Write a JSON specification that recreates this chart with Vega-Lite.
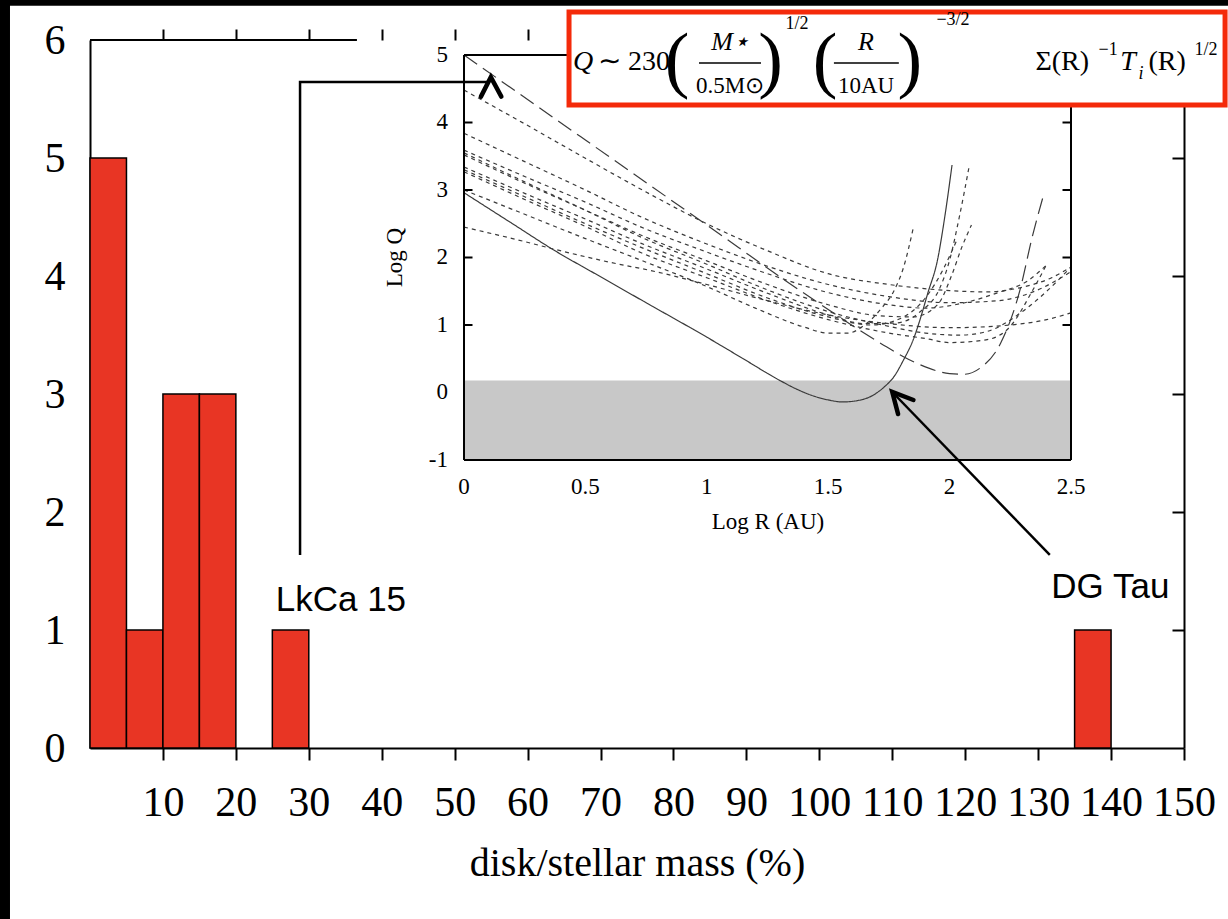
{
  "$schema": "https://vega.github.io/schema/vega-lite/v6.json",
  "width": 1094,
  "height": 708,
  "padding": {"left": 90, "top": 40, "right": 44, "bottom": 171},
  "autosize": {"type": "none"},
  "background": "white",
  "config": {"view": {"stroke": null}, "axis": {"grid": false}},
  "layer": [
    {
      "layer": [
        {
          "data": {"values": [
            {"lo": 0, "hi": 5, "n": 5},
            {"lo": 5, "hi": 10, "n": 1},
            {"lo": 10, "hi": 15, "n": 3},
            {"lo": 15, "hi": 20, "n": 3},
            {"lo": 25, "hi": 30, "n": 1},
            {"lo": 135, "hi": 140, "n": 1}
          ]},
          "mark": {"type": "rect", "fill": "#e83524", "stroke": "black", "strokeWidth": 1.5},
          "encoding": {
            "x": {"field": "lo", "type": "quantitative", "scale": {"domain": [0, 150], "nice": false, "zero": false},
              "axis": {"orient": "bottom", "values": [10,20,30,40,50,60,70,80,90,100,110,120,130,140,150], "format": "d",
                "tickSize": 12, "tickWidth": 2, "tickColor": "black", "domainColor": "black", "domainWidth": 2,
                "labelFont": "Liberation Serif", "labelFontSize": 42, "labelColor": "black", "labelPadding": 22, "labelDx": 7,
                "labelFlush": false, "labelOverlap": false,
                "title": "disk/stellar mass (%)", "titleFont": "Liberation Serif", "titleFontSize": 40, "titleFontWeight": "normal",
                "titleColor": "black", "titlePadding": 20}},
            "x2": {"field": "hi"},
            "y": {"field": "n", "type": "quantitative", "scale": {"domain": [0, 6], "nice": false, "zero": false},
              "axis": {"orient": "left", "values": [0,1,2,3,4,5,6], "ticks": false, "tickSize": 0,
                "domainColor": "black", "domainWidth": 2,
                "labelFont": "Liberation Serif", "labelFontSize": 42, "labelColor": "black", "labelPadding": 25,
                "labelFlush": false, "labelOverlap": false, "title": null}},
            "y2": {"datum": 0}
          }
        },
        {
          "data": {"values": [{"a": 0, "b": 36.6, "y": 6}]},
          "mark": {"type": "rule", "color": "black", "strokeWidth": 2},
          "encoding": {
            "x": {"field": "a", "type": "quantitative", "scale": {"domain": [0, 150], "nice": false, "zero": false},
              "axis": {"orient": "top", "values": [10,20,30,40,50,60,70,80,90,100,110,120,130,140,150],
                "labels": false, "domain": false, "tickSize": 11, "tickWidth": 2, "tickColor": "black", "title": null}},
            "x2": {"field": "b"},
            "y": {"field": "y", "type": "quantitative", "scale": {"domain": [0, 6], "nice": false, "zero": false},
              "axis": {"orient": "right", "values": [1,2,3,4,5], "labels": false, "tickSize": -12, "tickWidth": 2,
                "tickColor": "black", "domainColor": "black", "domainWidth": 2, "title": null}}
          }
        },
        {
          "data": {"values": [
            {"a": -14, "b": -10.97, "c": -2, "d": 7},
            {"a": -14, "b": 160, "c": 6.29, "d": 7}
          ]},
          "mark": {"type": "rect", "fill": "black"},
          "encoding": {
            "x": {"field": "a", "type": "quantitative", "scale": {"domain": [0, 150], "nice": false, "zero": false}, "axis": null},
            "x2": {"field": "b"},
            "y": {"field": "c", "type": "quantitative", "scale": {"domain": [0, 6], "nice": false, "zero": false}, "axis": null},
            "y2": {"field": "d"}
          }
        }
      ],
      "resolve": {"axis": {"x": "independent", "y": "independent"}}
    },
    {
      "layer": [
        {
          "data": {"values": [{"a": 0, "b": 2.5, "c": -1, "d": 0.176}]},
          "mark": {"type": "rect", "fill": "#c8c8c8"},
          "encoding": {
            "x": {"field": "a", "type": "quantitative", "scale": {"domain": [-1.5404, 2.9654], "nice": false, "zero": false}, "axis": null},
            "x2": {"field": "b"},
            "y": {"field": "c", "type": "quantitative", "scale": {"domain": [-5.2667, 5.2222], "nice": false, "zero": false}, "axis": null},
            "y2": {"field": "d"}
          }
        },
        {
          "data": {"values": [
            {"c":"S","s":"solid","r":0,"q":2.96},{"c":"S","s":"solid","r":0.2,"q":2.5},{"c":"S","s":"solid","r":0.37,"q":2.11},
            {"c":"S","s":"solid","r":0.55,"q":1.74},{"c":"S","s":"solid","r":0.75,"q":1.33},{"c":"S","s":"solid","r":1.0,"q":0.82},
            {"c":"S","s":"solid","r":1.15,"q":0.5},{"c":"S","s":"solid","r":1.3,"q":0.18},{"c":"S","s":"solid","r":1.37,"q":0.05},
            {"c":"S","s":"solid","r":1.43,"q":-0.04},{"c":"S","s":"solid","r":1.5,"q":-0.11},{"c":"S","s":"solid","r":1.56,"q":-0.14},
            {"c":"S","s":"solid","r":1.62,"q":-0.12},{"c":"S","s":"solid","r":1.68,"q":-0.05},
            {"c":"S","s":"solid","r":1.73,"q":0.08},{"c":"S","s":"solid","r":1.77,"q":0.23},{"c":"S","s":"solid","r":1.81,"q":0.48},
            {"c":"S","s":"solid","r":1.85,"q":0.78},{"c":"S","s":"solid","r":1.88,"q":1.1},{"c":"S","s":"solid","r":1.91,"q":1.47},
            {"c":"S","s":"solid","r":1.95,"q":1.96},{"c":"S","s":"solid","r":1.98,"q":2.6},{"c":"S","s":"solid","r":2.01,"q":3.37},

            {"c":"L","s":"long","r":0,"q":5.0},{"c":"L","s":"long","r":0.5,"q":3.74},{"c":"L","s":"long","r":1.0,"q":2.48},
            {"c":"L","s":"long","r":1.38,"q":1.52},{"c":"L","s":"long","r":1.5,"q":1.23},{"c":"L","s":"long","r":1.63,"q":0.92},
            {"c":"L","s":"long","r":1.72,"q":0.72},{"c":"L","s":"long","r":1.81,"q":0.53},{"c":"L","s":"long","r":1.9,"q":0.38},
            {"c":"L","s":"long","r":2.0,"q":0.28},{"c":"L","s":"long","r":2.06,"q":0.27},{"c":"L","s":"long","r":2.125,"q":0.36},
            {"c":"L","s":"long","r":2.21,"q":0.73},{"c":"L","s":"long","r":2.29,"q":1.52},{"c":"L","s":"long","r":2.34,"q":2.3},
            {"c":"L","s":"long","r":2.385,"q":2.9},

            {"c":"c1","s":"short","r":0,"q":4.48},{"c":"c1","s":"short","r":0.25,"q":3.98},{"c":"c1","s":"short","r":0.5,"q":3.47},
            {"c":"c1","s":"short","r":0.75,"q":2.97},{"c":"c1","s":"short","r":1.0,"q":2.5},{"c":"c1","s":"short","r":1.25,"q":2.1},
            {"c":"c1","s":"short","r":1.5,"q":1.76},{"c":"c1","s":"short","r":1.75,"q":1.6},{"c":"c1","s":"short","r":2.0,"q":1.51},
            {"c":"c1","s":"short","r":2.15,"q":1.49},{"c":"c1","s":"short","r":2.3,"q":1.56},{"c":"c1","s":"short","r":2.42,"q":1.7},
            {"c":"c1","s":"short","r":2.5,"q":1.86},

            {"c":"c2","s":"short","r":0,"q":3.84},{"c":"c2","s":"short","r":0.25,"q":3.42},{"c":"c2","s":"short","r":0.5,"q":3.0},
            {"c":"c2","s":"short","r":0.73,"q":2.6},{"c":"c2","s":"short","r":1.0,"q":2.2},{"c":"c2","s":"short","r":1.25,"q":1.87},
            {"c":"c2","s":"short","r":1.5,"q":1.6},{"c":"c2","s":"short","r":1.75,"q":1.42},{"c":"c2","s":"short","r":2.0,"q":1.33},
            {"c":"c2","s":"short","r":2.2,"q":1.36},{"c":"c2","s":"short","r":2.35,"q":1.5},{"c":"c2","s":"short","r":2.5,"q":1.79},

            {"c":"c3","s":"short","r":0,"q":3.59},{"c":"c3","s":"short","r":0.25,"q":3.2},{"c":"c3","s":"short","r":0.5,"q":2.82},
            {"c":"c3","s":"short","r":0.73,"q":2.45},{"c":"c3","s":"short","r":1.0,"q":2.08},{"c":"c3","s":"short","r":1.25,"q":1.76},
            {"c":"c3","s":"short","r":1.5,"q":1.48},{"c":"c3","s":"short","r":1.75,"q":1.3},{"c":"c3","s":"short","r":1.9,"q":1.25},
            {"c":"c3","s":"short","r":2.05,"q":1.32},{"c":"c3","s":"short","r":2.2,"q":1.48},{"c":"c3","s":"short","r":2.32,"q":1.65},
            {"c":"c3","s":"short","r":2.4,"q":1.89},

            {"c":"c4","s":"short","r":0,"q":3.52},{"c":"c4","s":"short","r":0.25,"q":3.1},{"c":"c4","s":"short","r":0.5,"q":2.7},
            {"c":"c4","s":"short","r":0.73,"q":2.33},{"c":"c4","s":"short","r":1.0,"q":1.95},{"c":"c4","s":"short","r":1.25,"q":1.6},
            {"c":"c4","s":"short","r":1.5,"q":1.3},{"c":"c4","s":"short","r":1.7,"q":1.14},{"c":"c4","s":"short","r":1.85,"q":1.12},
            {"c":"c4","s":"short","r":1.95,"q":1.3},{"c":"c4","s":"short","r":2.01,"q":1.75},{"c":"c4","s":"short","r":2.05,"q":2.15},
            {"c":"c4","s":"short","r":2.09,"q":2.48},

            {"c":"c5","s":"short","r":0,"q":3.34},{"c":"c5","s":"short","r":0.25,"q":2.95},{"c":"c5","s":"short","r":0.5,"q":2.57},
            {"c":"c5","s":"short","r":0.73,"q":2.21},{"c":"c5","s":"short","r":1.0,"q":1.83},{"c":"c5","s":"short","r":1.25,"q":1.47},
            {"c":"c5","s":"short","r":1.5,"q":1.15},{"c":"c5","s":"short","r":1.65,"q":1.02},{"c":"c5","s":"short","r":1.78,"q":1.03},
            {"c":"c5","s":"short","r":1.88,"q":1.2},{"c":"c5","s":"short","r":1.96,"q":1.55},{"c":"c5","s":"short","r":2.0,"q":1.96},
            {"c":"c5","s":"short","r":2.04,"q":2.6},{"c":"c5","s":"short","r":2.08,"q":3.34},

            {"c":"c6","s":"short","r":0,"q":3.27},{"c":"c6","s":"short","r":0.25,"q":2.86},{"c":"c6","s":"short","r":0.5,"q":2.46},
            {"c":"c6","s":"short","r":0.73,"q":2.07},{"c":"c6","s":"short","r":1.0,"q":1.7},{"c":"c6","s":"short","r":1.25,"q":1.36},
            {"c":"c6","s":"short","r":1.5,"q":1.08},{"c":"c6","s":"short","r":1.75,"q":0.88},{"c":"c6","s":"short","r":1.9,"q":0.8},
            {"c":"c6","s":"short","r":2.0,"q":0.74},{"c":"c6","s":"short","r":2.15,"q":0.78},{"c":"c6","s":"short","r":2.25,"q":0.98},
            {"c":"c6","s":"short","r":2.34,"q":1.5},{"c":"c6","s":"short","r":2.4,"q":1.9},

            {"c":"c7","s":"short","r":0,"q":3.0},{"c":"c7","s":"short","r":0.25,"q":2.64},{"c":"c7","s":"short","r":0.5,"q":2.28},
            {"c":"c7","s":"short","r":0.75,"q":1.93},{"c":"c7","s":"short","r":1.0,"q":1.57},{"c":"c7","s":"short","r":1.2,"q":1.25},
            {"c":"c7","s":"short","r":1.4,"q":0.97},{"c":"c7","s":"short","r":1.5,"q":0.88},{"c":"c7","s":"short","r":1.58,"q":0.88},
            {"c":"c7","s":"short","r":1.65,"q":1.0},{"c":"c7","s":"short","r":1.72,"q":1.25},{"c":"c7","s":"short","r":1.77,"q":1.5},
            {"c":"c7","s":"short","r":1.81,"q":1.85},{"c":"c7","s":"short","r":1.85,"q":2.43},

            {"c":"c8","s":"short","r":0,"q":2.45},{"c":"c8","s":"short","r":0.2,"q":2.28},{"c":"c8","s":"short","r":0.42,"q":2.08},
            {"c":"c8","s":"short","r":0.6,"q":1.93},{"c":"c8","s":"short","r":0.79,"q":1.79},{"c":"c8","s":"short","r":1.0,"q":1.6},
            {"c":"c8","s":"short","r":1.25,"q":1.36},{"c":"c8","s":"short","r":1.5,"q":1.15},{"c":"c8","s":"short","r":1.75,"q":1.02},
            {"c":"c8","s":"short","r":2.0,"q":0.96},{"c":"c8","s":"short","r":2.25,"q":1.0},{"c":"c8","s":"short","r":2.4,"q":1.08},
            {"c":"c8","s":"short","r":2.5,"q":1.18},

            {"c":"c9","s":"short","r":0,"q":3.55},{"c":"c9","s":"short","r":0.25,"q":3.12},{"c":"c9","s":"short","r":0.5,"q":2.7},
            {"c":"c9","s":"short","r":0.73,"q":2.3},{"c":"c9","s":"short","r":1.0,"q":1.9},{"c":"c9","s":"short","r":1.25,"q":1.52},
            {"c":"c9","s":"short","r":1.5,"q":1.2},{"c":"c9","s":"short","r":1.75,"q":0.98},{"c":"c9","s":"short","r":1.9,"q":0.88},
            {"c":"c9","s":"short","r":2.04,"q":0.85},{"c":"c9","s":"short","r":2.15,"q":0.9},{"c":"c9","s":"short","r":2.3,"q":1.2},
            {"c":"c9","s":"short","r":2.4,"q":1.5},{"c":"c9","s":"short","r":2.5,"q":1.86},

            {"c":"c10","s":"short","r":0,"q":3.3},{"c":"c10","s":"short","r":0.25,"q":2.9},{"c":"c10","s":"short","r":0.5,"q":2.5},
            {"c":"c10","s":"short","r":0.75,"q":2.12},{"c":"c10","s":"short","r":1.0,"q":1.76},{"c":"c10","s":"short","r":1.25,"q":1.4},
            {"c":"c10","s":"short","r":1.5,"q":1.12},{"c":"c10","s":"short","r":1.68,"q":1.0},{"c":"c10","s":"short","r":1.8,"q":1.1},
            {"c":"c10","s":"short","r":1.9,"q":1.4},{"c":"c10","s":"short","r":1.97,"q":1.8},{"c":"c10","s":"short","r":2.03,"q":2.26}
          ]},
          "mark": {"type": "line", "interpolate": "monotone", "strokeWidth": 1.2, "color": "#3a3a3a"},
          "encoding": {
            "x": {"field": "r", "type": "quantitative", "scale": {"domain": [-1.5404, 2.9654], "nice": false, "zero": false}, "axis": null},
            "y": {"field": "q", "type": "quantitative", "scale": {"domain": [-5.2667, 5.2222], "nice": false, "zero": false}, "axis": null},
            "detail": {"field": "c"},
            "strokeDash": {"field": "s", "type": "nominal", "scale": {"domain": ["solid", "long", "short"], "range": [[1, 0], [16, 7], [4, 4]]}, "legend": null}
          }
        },
        {
          "data": {"values": [
            {"x": 0, "y": -1, "x2": 0, "y2": 5},
            {"x": 0, "y": -1, "x2": 2.5, "y2": -1},
            {"x": 2.5, "y": -1, "x2": 2.5, "y2": 5},
            {"x": 0, "y": 5, "x2": 2.5, "y2": 5}
          ]},
          "mark": {"type": "rule", "color": "black", "strokeWidth": 2},
          "encoding": {
            "x": {"field": "x", "type": "quantitative", "scale": {"domain": [-1.5404, 2.9654], "nice": false, "zero": false}, "axis": null},
            "x2": {"field": "x2"},
            "y": {"field": "y", "type": "quantitative", "scale": {"domain": [-5.2667, 5.2222], "nice": false, "zero": false}, "axis": null},
            "y2": {"field": "y2"}
          }
        },
        {
          "data": {"values": [
            {"a": 0, "b": 0.035, "v": 1}, {"a": 0, "b": 0.035, "v": 2}, {"a": 0, "b": 0.035, "v": 3}, {"a": 0, "b": 0.035, "v": 4},
            {"a": 2.465, "b": 2.5, "v": 1}, {"a": 2.465, "b": 2.5, "v": 2}, {"a": 2.465, "b": 2.5, "v": 3}, {"a": 2.465, "b": 2.5, "v": 4}
          ]},
          "mark": {"type": "rule", "color": "black", "strokeWidth": 2},
          "encoding": {
            "x": {"field": "a", "type": "quantitative", "scale": {"domain": [-1.5404, 2.9654], "nice": false, "zero": false}, "axis": null},
            "x2": {"field": "b"},
            "y": {"field": "v", "type": "quantitative", "scale": {"domain": [-5.2667, 5.2222], "nice": false, "zero": false}, "axis": null}
          }
        },
        {
          "data": {"values": [
            {"t": "5", "v": 5}, {"t": "4", "v": 4}, {"t": "3", "v": 3}, {"t": "2", "v": 2},
            {"t": "1", "v": 1}, {"t": "0", "v": 0}, {"t": "-1", "v": -1}
          ]},
          "mark": {"type": "text", "font": "Liberation Serif", "fontSize": 23, "align": "right", "baseline": "middle", "dx": -16, "color": "black"},
          "encoding": {
            "x": {"datum": 0, "type": "quantitative", "scale": {"domain": [-1.5404, 2.9654], "nice": false, "zero": false}, "axis": null},
            "y": {"field": "v", "type": "quantitative", "scale": {"domain": [-5.2667, 5.2222], "nice": false, "zero": false}, "axis": null},
            "text": {"field": "t"}
          }
        },
        {
          "data": {"values": [
            {"t": "0", "v": 0}, {"t": "0.5", "v": 0.5}, {"t": "1", "v": 1},
            {"t": "1.5", "v": 1.5}, {"t": "2", "v": 2}, {"t": "2.5", "v": 2.5}
          ]},
          "mark": {"type": "text", "font": "Liberation Serif", "fontSize": 23, "align": "center", "baseline": "middle", "dy": 27, "color": "black"},
          "encoding": {
            "x": {"field": "v", "type": "quantitative", "scale": {"domain": [-1.5404, 2.9654], "nice": false, "zero": false}, "axis": null},
            "y": {"datum": -1, "type": "quantitative", "scale": {"domain": [-5.2667, 5.2222], "nice": false, "zero": false}, "axis": null},
            "text": {"field": "t"}
          }
        },
        {
          "data": {"values": [{"t": "Log Q", "x": -0.284, "y": 2.0}]},
          "mark": {"type": "text", "font": "Liberation Serif", "fontSize": 23, "angle": 270, "align": "center", "baseline": "middle", "color": "black"},
          "encoding": {
            "x": {"field": "x", "type": "quantitative", "scale": {"domain": [-1.5404, 2.9654], "nice": false, "zero": false}, "axis": null},
            "y": {"field": "y", "type": "quantitative", "scale": {"domain": [-5.2667, 5.2222], "nice": false, "zero": false}, "axis": null},
            "text": {"field": "t"}
          }
        },
        {
          "data": {"values": [{"t": "Log R (AU)", "x": 1.252, "y": -1.92}]},
          "mark": {"type": "text", "font": "Liberation Serif", "fontSize": 23, "align": "center", "baseline": "middle", "color": "black"},
          "encoding": {
            "x": {"field": "x", "type": "quantitative", "scale": {"domain": [-1.5404, 2.9654], "nice": false, "zero": false}, "axis": null},
            "y": {"field": "y", "type": "quantitative", "scale": {"domain": [-5.2667, 5.2222], "nice": false, "zero": false}, "axis": null},
            "text": {"field": "t"}
          }
        }
      ]
    },
    {
      "layer": [
        {
          "data": {"values": [{"a": 65.68, "b": 155.63, "c": 6.237, "d": 5.449}]},
          "mark": {"type": "rect", "fill": "white", "stroke": "#f42a0a", "strokeWidth": 5},
          "encoding": {
            "x": {"field": "a", "type": "quantitative", "scale": {"domain": [0, 150], "nice": false, "zero": false}, "axis": null},
            "x2": {"field": "b"},
            "y": {"field": "c", "type": "quantitative", "scale": {"domain": [0, 6], "nice": false, "zero": false}, "axis": null},
            "y2": {"field": "d"}
          }
        },
        {
          "data": {"values": [{"a": 83.5, "b": 92.0, "y": 5.805}, {"a": 102.0, "b": 110.9, "y": 5.805}]},
          "mark": {"type": "rule", "color": "black", "strokeWidth": 1.3},
          "encoding": {
            "x": {"field": "a", "type": "quantitative", "scale": {"domain": [0, 150], "nice": false, "zero": false}, "axis": null},
            "x2": {"field": "b"},
            "y": {"field": "y", "type": "quantitative", "scale": {"domain": [0, 6], "nice": false, "zero": false}, "axis": null}
          }
        },
        {
          "data": {"values": [
            {"t": "∼ 230", "x": 74.6, "y": 5.814},
            {"t": "Σ(R)", "x": 133.3, "y": 5.814},
            {"t": "(R)", "x": 147.68, "y": 5.814}
          ]},
          "mark": {"type": "text", "font": "Liberation Serif", "fontSize": 28, "align": "center", "baseline": "middle", "color": "black"},
          "encoding": {
            "x": {"field": "x", "type": "quantitative", "scale": {"domain": [0, 150], "nice": false, "zero": false}, "axis": null},
            "y": {"field": "y", "type": "quantitative", "scale": {"domain": [0, 6], "nice": false, "zero": false}, "axis": null},
            "text": {"field": "t"}
          }
        },
        {
          "data": {"values": [
            {"t": "0.5M⊙", "x": 87.76, "y": 5.61},
            {"t": "10AU", "x": 106.4, "y": 5.61}
          ]},
          "mark": {"type": "text", "font": "Liberation Serif", "fontSize": 23, "align": "center", "baseline": "middle", "color": "black"},
          "encoding": {
            "x": {"field": "x", "type": "quantitative", "scale": {"domain": [0, 150], "nice": false, "zero": false}, "axis": null},
            "y": {"field": "y", "type": "quantitative", "scale": {"domain": [0, 6], "nice": false, "zero": false}, "axis": null},
            "text": {"field": "t"}
          }
        },
        {
          "data": {"values": [
            {"t": "Q", "x": 67.6, "y": 5.814},
            {"t": "T", "x": 142.33, "y": 5.814}
          ]},
          "mark": {"type": "text", "font": "Liberation Serif", "fontSize": 28, "fontStyle": "italic", "align": "center", "baseline": "middle", "color": "black"},
          "encoding": {
            "x": {"field": "x", "type": "quantitative", "scale": {"domain": [0, 150], "nice": false, "zero": false}, "axis": null},
            "y": {"field": "y", "type": "quantitative", "scale": {"domain": [0, 6], "nice": false, "zero": false}, "axis": null},
            "text": {"field": "t"}
          }
        },
        {
          "data": {"values": [
            {"t": "M⋆", "x": 87.76, "y": 5.983},
            {"t": "R", "x": 106.4, "y": 5.983}
          ]},
          "mark": {"type": "text", "font": "Liberation Serif", "fontSize": 26, "fontStyle": "italic", "align": "center", "baseline": "middle", "color": "black"},
          "encoding": {
            "x": {"field": "x", "type": "quantitative", "scale": {"domain": [0, 150], "nice": false, "zero": false}, "axis": null},
            "y": {"field": "y", "type": "quantitative", "scale": {"domain": [0, 6], "nice": false, "zero": false}, "axis": null},
            "text": {"field": "t"}
          }
        },
        {
          "data": {"values": [
            {"t": "1/2", "x": 96.94, "y": 6.136},
            {"t": "−3/2", "x": 118.33, "y": 6.169},
            {"t": "−1", "x": 139.59, "y": 5.915},
            {"t": "1/2", "x": 153.02, "y": 5.915}
          ]},
          "mark": {"type": "text", "font": "Liberation Serif", "fontSize": 18, "align": "center", "baseline": "middle", "color": "black"},
          "encoding": {
            "x": {"field": "x", "type": "quantitative", "scale": {"domain": [0, 150], "nice": false, "zero": false}, "axis": null},
            "y": {"field": "y", "type": "quantitative", "scale": {"domain": [0, 6], "nice": false, "zero": false}, "axis": null},
            "text": {"field": "t"}
          }
        },
        {
          "data": {"values": [{"t": "i", "x": 144.11, "y": 5.712}]},
          "mark": {"type": "text", "font": "Liberation Serif", "fontSize": 18, "fontStyle": "italic", "align": "center", "baseline": "middle", "color": "black"},
          "encoding": {
            "x": {"field": "x", "type": "quantitative", "scale": {"domain": [0, 150], "nice": false, "zero": false}, "axis": null},
            "y": {"field": "y", "type": "quantitative", "scale": {"domain": [0, 6], "nice": false, "zero": false}, "axis": null},
            "text": {"field": "t"}
          }
        },
        {
          "data": {"values": [
            {"t": "(", "x": 80.5, "y": 5.814},
            {"t": ")", "x": 93.3, "y": 5.814},
            {"t": "(", "x": 100.8, "y": 5.814},
            {"t": ")", "x": 112.4, "y": 5.814}
          ]},
          "mark": {"type": "text", "font": "Liberation Serif", "fontSize": 74, "align": "center", "baseline": "middle", "color": "black"},
          "encoding": {
            "x": {"field": "x", "type": "quantitative", "scale": {"domain": [0, 150], "nice": false, "zero": false}, "axis": null},
            "y": {"field": "y", "type": "quantitative", "scale": {"domain": [0, 6], "nice": false, "zero": false}, "axis": null},
            "text": {"field": "t"}
          }
        },
        {
          "data": {"values": [
            {"p": "a", "o": 1, "x": 28.8, "y": 1.636},
            {"p": "a", "o": 2, "x": 28.8, "y": 5.644},
            {"p": "a", "o": 3, "x": 54.6, "y": 5.644},
            {"p": "b", "o": 1, "x": 131.6, "y": 1.636},
            {"p": "b", "o": 2, "x": 110.0, "y": 3.017}
          ]},
          "mark": {"type": "line", "color": "black", "strokeWidth": 2.5, "interpolate": "linear"},
          "encoding": {
            "x": {"field": "x", "type": "quantitative", "scale": {"domain": [0, 150], "nice": false, "zero": false}, "axis": null},
            "y": {"field": "y", "type": "quantitative", "scale": {"domain": [0, 6], "nice": false, "zero": false}, "axis": null},
            "detail": {"field": "p"},
            "order": {"field": "o"}
          }
        },
        {
          "data": {"values": [
            {"p": "a", "o": 1, "x": 53.6, "y": 5.52},
            {"p": "a", "o": 2, "x": 54.96, "y": 5.685},
            {"p": "a", "o": 3, "x": 56.4, "y": 5.52},
            {"p": "b", "o": 1, "x": 112.9, "y": 2.949},
            {"p": "b", "o": 2, "x": 110.0, "y": 3.017},
            {"p": "b", "o": 3, "x": 110.8, "y": 2.83}
          ]},
          "mark": {"type": "line", "color": "black", "strokeWidth": 4.5, "strokeCap": "round", "strokeJoin": "miter", "interpolate": "linear"},
          "encoding": {
            "x": {"field": "x", "type": "quantitative", "scale": {"domain": [0, 150], "nice": false, "zero": false}, "axis": null},
            "y": {"field": "y", "type": "quantitative", "scale": {"domain": [0, 6], "nice": false, "zero": false}, "axis": null},
            "detail": {"field": "p"},
            "order": {"field": "o"}
          }
        },
        {
          "data": {"values": [
            {"t": "LkCa 15", "x": 34.4, "y": 1.254},
            {"t": "DG Tau", "x": 139.9, "y": 1.364}
          ]},
          "mark": {"type": "text", "font": "Liberation Sans", "fontSize": 35, "align": "center", "baseline": "middle", "color": "black"},
          "encoding": {
            "x": {"field": "x", "type": "quantitative", "scale": {"domain": [0, 150], "nice": false, "zero": false}, "axis": null},
            "y": {"field": "y", "type": "quantitative", "scale": {"domain": [0, 6], "nice": false, "zero": false}, "axis": null},
            "text": {"field": "t"}
          }
        }
      ]
    }
  ],
  "resolve": {"scale": {"x": "independent", "y": "independent"}, "axis": {"x": "independent", "y": "independent"}}
}
